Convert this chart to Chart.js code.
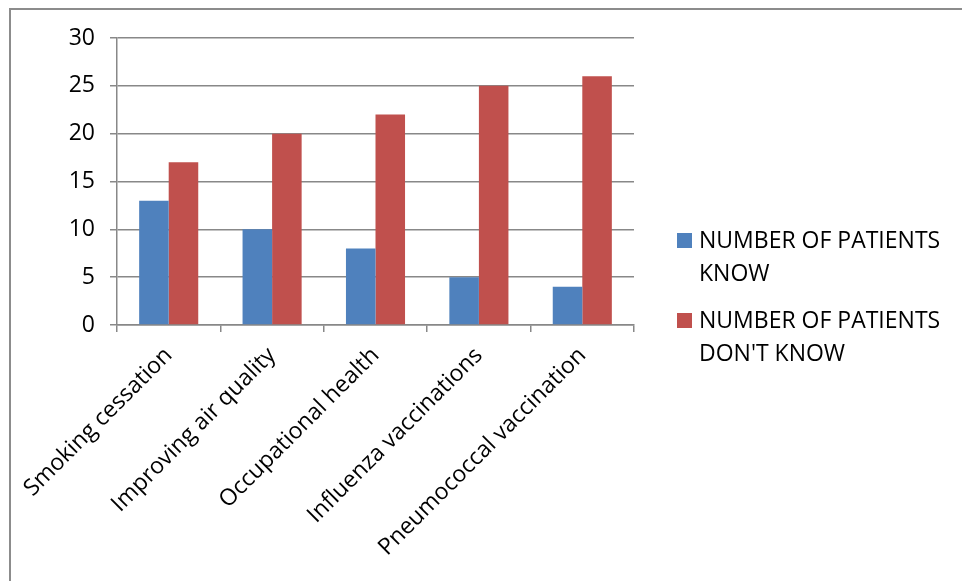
<!DOCTYPE html>
<html>
<head>
<meta charset="utf-8">
<script src="https://cdn.jsdelivr.net/npm/chart.js@4.4.0/dist/chart.umd.min.js"></script>
<style>
    body { margin: 0; background: #fff; overflow: hidden; }
    #frame { position: absolute; left: 9px; top: 8px; width: 1000px; height: 1000px; border: 2px solid #8c8c8c; }
    canvas { position: absolute; left: 0; top: 0; }
</style>
</head>
<body>
<div id="frame"></div>
<canvas id="PatientChart" width="962" height="581"></canvas>
<script>
const categories = [
    'Smoking cessation',
    'Improving air quality',
    'Occupational health',
    'Influenza vaccinations',
    'Pneumococcal vaccination'
];
const knowValues = [13, 10, 8, 5, 4];
const dontKnowValues = [17, 20, 22, 25, 26];
const seriesNames = ['NUMBER OF PATIENTS KNOW', "NUMBER OF PATIENTS DON'T KNOW"];
const yTickValues = [0, 5, 10, 15, 20, 25, 30];

const COLORS = ['#4F81BD', '#C0504D'];
const GRID_COLOR = '#888888';
const FONT = { family: "'Open Sans', sans-serif", size: 23 };

// legend drawn by hand so the names can wrap onto two lines like the original
const sideLegend = {
    id: 'sideLegend',
    afterDraw(chart, args, opts) {
        const ctx = chart.ctx;
        ctx.save();
        ctx.font = FONT.size + 'px ' + FONT.family;
        ctx.textBaseline = 'alphabetic';
        ctx.textAlign = 'left';
        let baseline = opts.top;
        chart.data.datasets.forEach((ds) => {
            // word wrap
            const words = ds.label.split(' ');
            const lines = [];
            let line = '';
            words.forEach(w => {
                const test = line ? line + ' ' + w : w;
                if (ctx.measureText(test).width > opts.maxWidth && line) {
                    lines.push(line);
                    line = w;
                } else {
                    line = test;
                }
            });
            lines.push(line);

            ctx.fillStyle = ds.backgroundColor;
            ctx.fillRect(opts.left, baseline - 15, 15, 15);
            ctx.fillStyle = '#000';
            lines.forEach((l, i) => {
                ctx.fillText(l, opts.left + 22, baseline + i * opts.lineHeight);
            });
            baseline += opts.itemGap;
        });
        ctx.restore();
    }
};

new Chart(document.getElementById('PatientChart'), {
    type: 'bar',
    data: {
        labels: categories,
        datasets: [{
            label: seriesNames[0],
            data: knowValues,
            backgroundColor: COLORS[0]
        }, {
            label: seriesNames[1],
            data: dontKnowValues,
            backgroundColor: COLORS[1]
        }]
    },
    options: {
        responsive: false,
        animation: false,
        layout: {
            padding: { left: 0, top: 38, right: 328, bottom: 0 }
        },
        datasets: {
            bar: {
                barPercentage: 1,
                categoryPercentage: 2 / 3.5
            }
        },
        scales: {
            x: {
                afterFit: (scale) => { scale.height = 256; },
                grid: {
                    offset: true,
                    drawOnChartArea: false,
                    color: GRID_COLOR,
                    lineWidth: 1.5,
                    tickLength: 7
                },
                border: { color: GRID_COLOR, width: 1.5 },
                ticks: {
                    minRotation: 45,
                    maxRotation: 45,
                    autoSkip: false,
                    color: '#000',
                    font: FONT,
                    padding: 10
                }
            },
            y: {
                min: 0,
                max: 30,
                afterFit: (scale) => { scale.width = 117; },
                afterBuildTicks: (scale) => {
                    scale.ticks = yTickValues.map(v => ({ value: v }));
                },
                grid: {
                    color: GRID_COLOR,
                    lineWidth: 1.5,
                    tickLength: 7
                },
                border: { color: GRID_COLOR, width: 1.5 },
                ticks: {
                    color: '#000',
                    font: FONT,
                    padding: 15
                }
            }
        },
        plugins: {
            legend: { display: false },
            tooltip: { enabled: false },
            sideLegend: { left: 677, top: 248, lineHeight: 33, itemGap: 80, maxWidth: 250 }
        }
    },
    plugins: [sideLegend]
});
</script>
</body>
</html>
